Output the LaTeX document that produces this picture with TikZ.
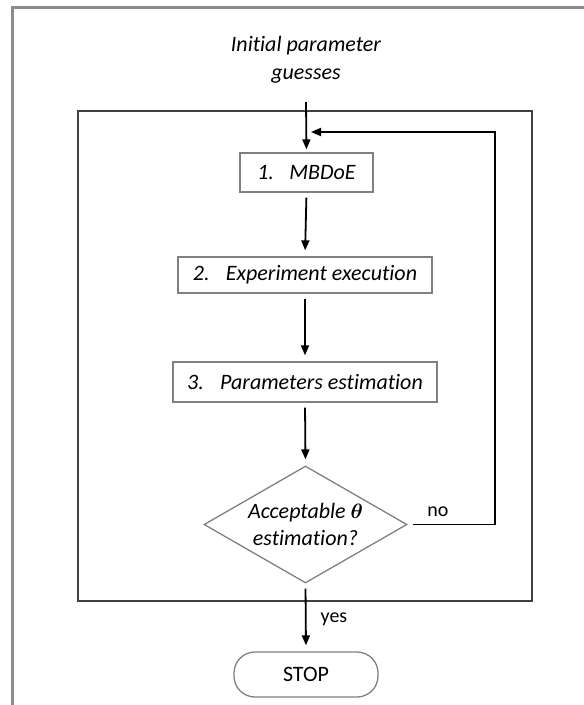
\documentclass[tikz,border=0pt]{standalone}
\usepackage{fontspec}
\setmainfont{Carlito}[Ligatures=NoCommon]
\usepackage{bm}
\usetikzlibrary{arrows.meta,shapes.geometric}

\definecolor{framegray}{HTML}{8C8C8C}
\definecolor{loopgray}{HTML}{404040}
\definecolor{boxgray}{HTML}{808080}

\begin{document}
\begin{tikzpicture}[x=1pt,y=-1pt,
  stepbox/.style={draw=boxgray, line width=1.3pt, inner sep=0pt,
    minimum height=39pt, font=\itshape\fontsize{22}{26}\selectfont},
  decision/.style={draw=boxgray, line width=1.3pt, diamond, inner sep=0pt,
    minimum width=203pt, minimum height=117pt, shape aspect=1.735,
    align=center, font=\itshape\fontsize{22}{27}\selectfont},
  terminal/.style={draw=boxgray, line width=1.3pt, rectangle,
    rounded corners=21pt, inner sep=0pt, minimum width=144pt,
    minimum height=45pt, font=\fontsize{22}{26}\selectfont},
  flow/.style={line width=1.8pt, -{Triangle[length=10pt,width=8pt]},
    shorten <=5pt, shorten >=6pt},
  lbl/.style={font=\fontsize{20}{24}\selectfont, inner sep=0pt}]
  \useasboundingbox (0,0) rectangle (584,705);

  % outer page frame (open at right and bottom)
  \draw[framegray, line width=2.2pt] (584,7.5) -- (12.5,7.5) -- (12.5,705);

  % iteration loop frame
  \draw[loopgray, line width=1.6pt] (78,111) rectangle (532,601);

  % start text
  \node[align=center, inner sep=0pt, font=\itshape\fontsize{22}{28}\selectfont]
    (init) at (306,60) {Initial parameter\\guesses};

  % steps
  \node[stepbox, minimum width=133pt] (mbdoe) at (306.5,172.5)
    {\makebox[32pt][l]{1.}MBDoE};
  \node[stepbox, minimum width=254pt, minimum height=36pt] (exp) at (305,275)
    {\makebox[33pt][l]{2.}Experiment execution};
  \node[stepbox, minimum width=264pt, minimum height=40pt] (par) at (305,382)
    {\makebox[33pt][l]{3.}Parameters estimation};

  % decision
  \node[decision] (dia) at (305.5,524.5) {Acceptable $\bm{\theta}$\\estimation?};

  % end
  \node[terminal] (stop) at (306,674.5) {STOP};

  % connectors
  \coordinate (entry) at (306,102);
  \coordinate (rt) at (495,132);
  \coordinate (join) at (311,132);
  \draw[line width=1.8pt, -{Triangle[length=10pt,width=8pt]}, shorten >=3pt]
    (entry) -- (mbdoe.north);
  \draw[flow] (mbdoe.south) -- (exp.north);
  \draw[flow] (exp.south) -- (par.north);
  \draw[flow] (par.south) -- (dia.north);
  \draw[flow] (dia.south) -- (stop.north);
  \draw[line width=1.8pt, -{Triangle[length=10pt,width=8pt]}, shorten <=5pt]
    (dia.east) -| (rt) -- (join);

  % branch labels
  \node[lbl] (no) at (438,512) {no};
  \node[lbl] (yes) at (334,619) {yes};
\end{tikzpicture}
\end{document}
